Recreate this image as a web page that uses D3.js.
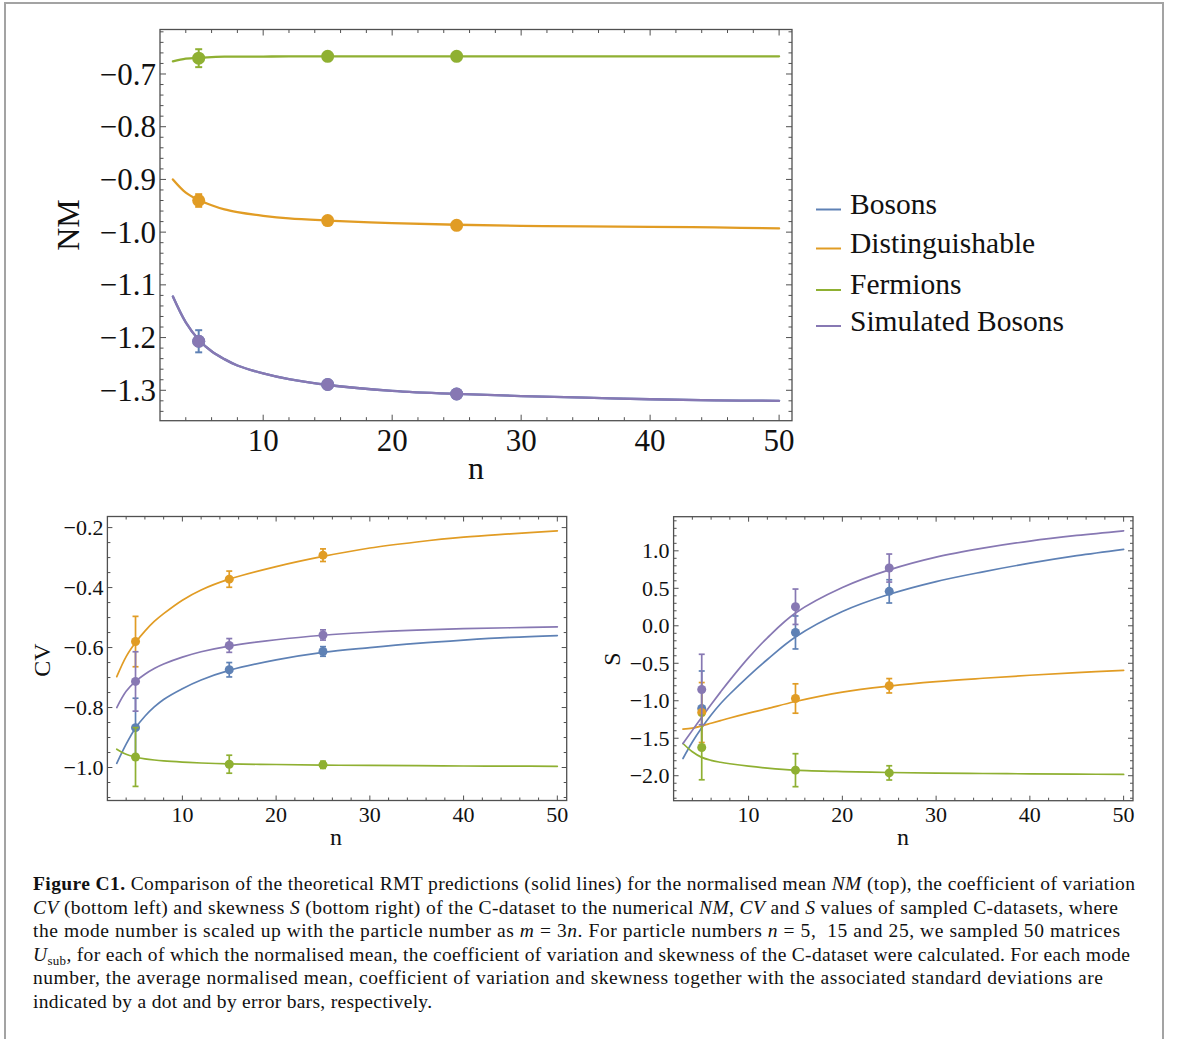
<!DOCTYPE html>
<html>
<head>
<meta charset="utf-8">
<script src="https://cdn.jsdelivr.net/npm/d3@7"></script>
<style>
  html, body { margin: 0; padding: 0; background: #fff; }
  svg { display: block; }
  text { font-family: "Liberation Serif", "Times New Roman", serif; fill: #111; }
</style>
</head>
<body>
<svg id="fig" width="1179" height="1039"></svg>
<script>
// ---------------- DATA ----------------
const seriesNames = ["Bosons", "Distinguishable", "Fermions", "Simulated Bosons"];
const seriesColors = ["#5E81B5", "#E19C24", "#8FB032", "#8778B3"];

// theory curves sampled at these particle numbers
const nCurve = [3, 4, 5, 6, 7, 8, 10, 12, 15, 20, 25, 30, 35, 40, 45, 50];
// sampled points
const nPts = [5, 15, 25];

// Normalised mean NM
const nmBosons   = [-1.122, -1.171, -1.204, -1.226, -1.241, -1.253, -1.268, -1.279, -1.290, -1.301, -1.307, -1.311, -1.314, -1.317, -1.319, -1.320];
const nmDist     = [-0.900, -0.925, -0.939, -0.949, -0.957, -0.962, -0.969, -0.974, -0.978, -0.983, -0.986, -0.988, -0.989, -0.990, -0.991, -0.993];
const nmFerm     = [-0.676, -0.671, -0.669, -0.668, -0.667, -0.667, -0.667, -0.6665, -0.6665, -0.6665, -0.6665, -0.6665, -0.6665, -0.6665, -0.6665, -0.6665];
const nmSimBos   = [-1.122, -1.171, -1.204, -1.226, -1.241, -1.253, -1.268, -1.279, -1.290, -1.301, -1.307, -1.311, -1.314, -1.317, -1.319, -1.320];
const nmPtsBosons = [-1.207, -1.289, -1.307], nmErrBosons = [0.021, 0.004, 0.003];
const nmPtsDist   = [-0.940, -0.978, -0.987], nmErrDist   = [0.012, 0.004, 0.003];
const nmPtsFerm   = [-0.670, -0.6665, -0.6665], nmErrFerm = [0.017, 0.003, 0.002];
const nmPtsSimBos = [-1.207, -1.289, -1.307], nmErrSimBos = [0.008, 0.003, 0.002];

// Coefficient of variation CV
const cvBosons = [-0.986, -0.922, -0.868, -0.829, -0.798, -0.773, -0.737, -0.708, -0.676, -0.641, -0.616, -0.600, -0.586, -0.575, -0.566, -0.560];
const cvDist   = [-0.697, -0.630, -0.583, -0.545, -0.513, -0.487, -0.442, -0.408, -0.372, -0.330, -0.296, -0.268, -0.248, -0.232, -0.221, -0.211];
const cvFerm   = [-0.939, -0.956, -0.965, -0.971, -0.975, -0.978, -0.982, -0.985, -0.988, -0.990, -0.992, -0.993, -0.994, -0.995, -0.9955, -0.996];
const cvSimBos = [-0.800, -0.746, -0.713, -0.689, -0.670, -0.655, -0.632, -0.614, -0.595, -0.574, -0.559, -0.549, -0.542, -0.537, -0.534, -0.531];
const cvPtsBosons = [-0.867, -0.674, -0.613], cvErrBosons = [0.098, 0.024, 0.016];
const cvPtsDist   = [-0.580, -0.372, -0.292], cvErrDist   = [0.084, 0.027, 0.021];
const cvPtsFerm   = [-0.965, -0.989, -0.991], cvErrFerm   = [0.098, 0.030, 0.012];
const cvPtsSimBos = [-0.713, -0.593, -0.558], cvErrSimBos = [0.099, 0.023, 0.017];

// Skewness S
const sBosons = [-1.77, -1.55, -1.36, -1.19, -1.04, -0.91, -0.67, -0.45, -0.15, 0.19, 0.42, 0.59, 0.72, 0.835, 0.935, 1.02];
const sDist   = [-1.379, -1.365, -1.335, -1.300, -1.265, -1.230, -1.165, -1.105, -1.010, -0.885, -0.805, -0.745, -0.700, -0.660, -0.625, -0.595];
const sFerm   = [-1.57, -1.68, -1.755, -1.795, -1.82, -1.84, -1.873, -1.898, -1.925, -1.945, -1.957, -1.965, -1.970, -1.975, -1.979, -1.982];
const sSimBos = [-1.57, -1.395, -1.22, -1.05, -0.885, -0.725, -0.425, -0.16, 0.17, 0.51, 0.745, 0.915, 1.035, 1.13, 1.205, 1.267];
const sPtsBosons = [-1.103, -0.089, 0.459], sErrBosons = [0.50, 0.22, 0.155];
const sPtsDist   = [-1.157, -0.970, -0.800], sErrDist   = [0.40, 0.196, 0.096];
const sPtsFerm   = [-1.624, -1.926, -1.962], sErrFerm   = [0.43, 0.22, 0.095];
const sPtsSimBos = [-0.850, 0.254, 0.770], sErrSimBos = [0.47, 0.236, 0.187];

// ticks
const xMajorTicks = [10, 20, 30, 40, 50];
const nmTicks = [-0.7, -0.8, -0.9, -1.0, -1.1, -1.2, -1.3];
const cvTicks = [-0.2, -0.4, -0.6, -0.8, -1.0];
const sTicks  = [1.0, 0.5, 0.0, -0.5, -1.0, -1.5, -2.0];

const captionLines = [
  [["b", "Figure C1."], ["", " Comparison of the theoretical RMT predictions (solid lines) for the normalised mean "], ["i", "NM"], ["", " (top), the coefficient of variation"]],
  [["i", "CV"], ["", " (bottom left) and skewness "], ["i", "S"], ["", " (bottom right) of the C-dataset to the numerical "], ["i", "NM"], ["", ", "], ["i", "CV"], ["", " and "], ["i", "S"], ["", " values of sampled C-datasets, where"]],
  [["", "the mode number is scaled up with the particle number as "], ["i", "m"], ["", " = 3"], ["i", "n"], ["", ". For particle numbers "], ["i", "n"], ["", " = 5,  15 and 25, we sampled 50 matrices"]],
  [["i", "U"], ["sub", "sub"], ["up", ", for each of which the normalised mean, the coefficient of variation and skewness of the C-dataset were calculated. For each mode"]],
  [["", "number, the average normalised mean, coefficient of variation and skewness together with the associated standard deviations are"]],
  [["", "indicated by a dot and by error bars, respectively."]]
];
const captionWidths = [1102, 1085, 1087, 1097, 1070, 399];

// ---------------- DRAW ----------------
const svg = d3.select("#fig");
const fmtTick = v => (v < 0 ? "\u2212" : "") + Math.abs(v).toFixed(1);

// outer figure border
svg.append("rect").attr("x", 5).attr("y", 3).attr("width", 1158).attr("height", 1100)
  .attr("fill", "none").attr("stroke", "#a3a3a3").attr("stroke-width", 2);

function panel(cfg) {
  const g = svg.append("g");
  const x = d3.scaleLinear().domain([2, 51]).range([cfg.left, cfg.right]);
  const y = d3.scaleLinear().domain(cfg.yDomain).range([cfg.bottom, cfg.top]);
  const frameColor = "#505050";

  const xMinor = d3.range(4, 51, 2).filter(v => v % 10 !== 0);
  const yMinor = d3.range(Math.ceil(cfg.yDomain[0] / cfg.minorStep), Math.floor(cfg.yDomain[1] / cfg.minorStep) + 1)
    .map(k => +(k * cfg.minorStep).toFixed(4))
    .filter(v => !cfg.ticks.some(t => Math.abs(t - v) < 1e-6));
  const tickG = g.append("g").attr("stroke", frameColor).attr("stroke-width", 1);
  const drawX = (vals, len) => vals.forEach(v => {
    tickG.append("line").attr("x1", x(v)).attr("x2", x(v)).attr("y1", cfg.bottom).attr("y2", cfg.bottom - len);
    tickG.append("line").attr("x1", x(v)).attr("x2", x(v)).attr("y1", cfg.top).attr("y2", cfg.top + len);
  });
  const drawY = (vals, len) => vals.forEach(v => {
    tickG.append("line").attr("y1", y(v)).attr("y2", y(v)).attr("x1", cfg.left).attr("x2", cfg.left + len);
    tickG.append("line").attr("y1", y(v)).attr("y2", y(v)).attr("x1", cfg.right).attr("x2", cfg.right - len);
  });
  drawX(xMajorTicks, cfg.majorLen); drawX(xMinor, cfg.minorLen);
  drawY(cfg.ticks, cfg.majorLen); drawY(yMinor, cfg.minorLen);

  g.append("rect").attr("x", cfg.left).attr("y", cfg.top)
    .attr("width", cfg.right - cfg.left).attr("height", cfg.bottom - cfg.top)
    .attr("fill", "none").attr("stroke", frameColor).attr("stroke-width", 1.3);

  g.selectAll(".xl").data(xMajorTicks).enter().append("text")
    .attr("x", d => x(d)).attr("y", cfg.xLabelY).attr("text-anchor", "middle")
    .attr("font-size", cfg.tickFont).text(d => d);
  g.selectAll(".yl").data(cfg.ticks).enter().append("text")
    .attr("x", cfg.left - cfg.yLabelGap).attr("y", d => y(d)).attr("dy", "0.34em")
    .attr("text-anchor", "end").attr("font-size", cfg.tickFont).text(fmtTick);

  g.append("text").attr("x", cfg.xTitle[0]).attr("y", cfg.xTitle[1]).attr("text-anchor", "middle")
    .attr("font-size", cfg.titleFont).text("n");
  g.append("text").attr("transform", `translate(${cfg.yTitle[0]},${cfg.yTitle[1]}) rotate(-90)`)
    .attr("text-anchor", "middle").attr("dy", "0.35em").attr("font-size", cfg.titleFont).text(cfg.yTitleText);

  const line = d3.line().x(d => x(d[0])).y(d => y(d[1])).curve(d3.curveCatmullRom.alpha(0.5));
  cfg.curves.forEach((c, i) => {
    g.append("path").attr("d", line(nCurve.map((n, k) => [n, c[k]])))
      .attr("fill", "none").attr("stroke", seriesColors[i]).attr("stroke-width", cfg.lineW)
      .attr("stroke-linecap", "round");
  });

  cfg.points.forEach((p, i) => {
    const col = seriesColors[i];
    const errs = cfg.errors[i];
    nPts.forEach((n, k) => {
      const cx = x(n), v = p[k], e = errs[k];
      const y1 = y(v + e), y2 = y(v - e);
      g.append("line").attr("x1", cx).attr("x2", cx).attr("y1", y1).attr("y2", y2)
        .attr("stroke", col).attr("stroke-width", cfg.barW);
      [y1, y2].forEach(yy => g.append("line").attr("x1", cx - cfg.cap).attr("x2", cx + cfg.cap)
        .attr("y1", yy).attr("y2", yy).attr("stroke", col).attr("stroke-width", cfg.barW));
      g.append("circle").attr("cx", cx).attr("cy", y(v)).attr("r", cfg.r).attr("fill", col);
    });
  });
  return { x, y };
}

// top panel: NM
panel({
  left: 160, right: 792, top: 29.5, bottom: 420.7,
  yDomain: [-1.3577, -0.6156], ticks: nmTicks, minorStep: 0.02,
  majorLen: 6, minorLen: 3.5, tickFont: 31, yLabelGap: 4, xLabelY: 451,
  titleFont: 32, xTitle: [476, 479], yTitle: [68, 225], yTitleText: "NM",
  lineW: 2.3, barW: 2, cap: 3.5, r: 6.5,
  curves: [nmBosons, nmDist, nmFerm, nmSimBos],
  points: [nmPtsBosons, nmPtsDist, nmPtsFerm, nmPtsSimBos],
  errors: [nmErrBosons, nmErrDist, nmErrFerm, nmErrSimBos]
});

// bottom-left: CV
panel({
  left: 107.4, right: 566.7, top: 516.5, bottom: 800.5,
  yDomain: [-1.11, -0.163], ticks: cvTicks, minorStep: 0.05,
  majorLen: 5, minorLen: 3, tickFont: 22, yLabelGap: 4, xLabelY: 822,
  titleFont: 24, xTitle: [336, 845], yTitle: [42, 660], yTitleText: "CV",
  lineW: 1.7, barW: 1.7, cap: 3, r: 4.5,
  curves: [cvBosons, cvDist, cvFerm, cvSimBos],
  points: [cvPtsBosons, cvPtsDist, cvPtsFerm, cvPtsSimBos],
  errors: [cvErrBosons, cvErrDist, cvErrFerm, cvErrSimBos]
});

// bottom-right: S
panel({
  left: 673.6, right: 1133, top: 516.7, bottom: 800.7,
  yDomain: [-2.333, 1.455], ticks: sTicks, minorStep: 0.1,
  majorLen: 5, minorLen: 3, tickFont: 22, yLabelGap: 4, xLabelY: 822,
  titleFont: 24, xTitle: [903, 845], yTitle: [612, 659], yTitleText: "S",
  lineW: 1.7, barW: 1.7, cap: 3, r: 4.5,
  curves: [sBosons, sDist, sFerm, sSimBos],
  points: [sPtsBosons, sPtsDist, sPtsFerm, sPtsSimBos],
  errors: [sErrBosons, sErrDist, sErrFerm, sErrSimBos]
});

// legend
const legY = [209.5, 248.5, 290, 326];
const legBase = [213.5, 252.5, 294, 331];
const leg = svg.append("g");
seriesNames.forEach((name, i) => {
  leg.append("line").attr("x1", 816).attr("x2", 841).attr("y1", legY[i]).attr("y2", legY[i])
    .attr("stroke", seriesColors[i]).attr("stroke-width", 2);
  leg.append("text").attr("x", 850).attr("y", legBase[i]).attr("font-size", 29.5).text(name);
});

// caption
const cap = svg.append("g");
captionLines.forEach((parts, li) => {
  const t = cap.append("text").attr("x", 33).attr("y", 890 + li * 23.6).attr("font-size", 19.5)
    .attr("xml:space", "preserve");
  if (captionWidths[li] > 0) t.attr("textLength", captionWidths[li]).attr("lengthAdjust", "spacing");
  parts.forEach(([style, str]) => {
    const ts = t.append("tspan").text(str);
    if (style === "b") ts.attr("font-weight", "bold");
    if (style === "i") ts.attr("font-style", "italic");
    if (style === "sub") ts.attr("font-size", 13).attr("dy", 4);
    if (style === "up") ts.attr("dy", -4);
  });
});
</script>
</body>
</html>
